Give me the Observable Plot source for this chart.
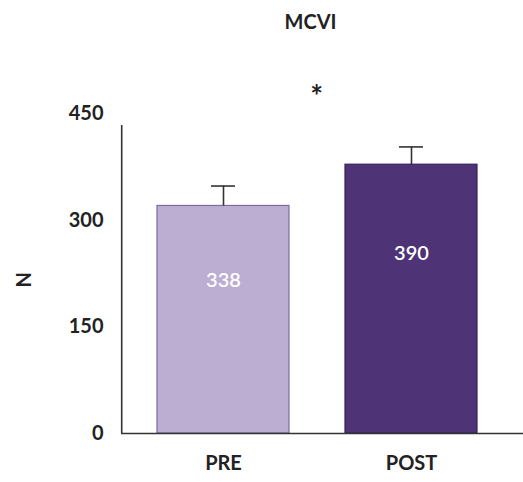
<!DOCTYPE html>
<html>
<head>
<meta charset="utf-8">
<script src="https://cdn.jsdelivr.net/npm/d3@7"></script>
<script src="https://cdn.jsdelivr.net/npm/@observablehq/plot@0.6"></script>
<style>
  html, body { margin: 0; padding: 0; background: #fff; }
  #chart svg { display: block; }
</style>
</head>
<body>
<div id="chart"></div>
<script>
const categories = ["PRE", "POST"];
const barValues = [320, 378];       // bar heights as drawn
const errorTops = [348, 403];       // top of error bars
const valueLabels = ["338", "390"]; // printed values
const fills = ["#bcaed3", "#4e3476"];
const strokes = ["#7d6d9c", "#35245a"];
const yTicks = [0, 150, 300, 450];
const title = "MCVI";
const yLabel = "N";
const significance = "*";

const data = categories.map((c, i) => ({
  cat: c, value: barValues[i], top: errorTops[i], label: valueLabels[i],
  fill: fills[i], stroke: strokes[i]
}));

const font = "Lato, 'Open Sans', sans-serif";

const chart = Plot.plot({
  width: 523,
  height: 482,
  marginTop: 113,
  marginBottom: 49,
  marginLeft: 121,
  marginRight: 0,
  style: { fontFamily: font, fontSize: "20px", fontWeight: 700, color: "#222", background: "#fff" },
  x: { domain: categories, range: [121, 513], paddingInner: 0.3, paddingOuter: 0.19, label: null },
  y: { domain: [0, 450], ticks: yTicks, label: null },
  marks: [
    Plot.barY(data, { x: "cat", y: "value", fill: "fill", stroke: "stroke", strokeWidth: 1.2 }),
    Plot.ruleX(data, { x: "cat", y1: "value", y2: "top", stroke: "#333", strokeWidth: 1.6 }),
    Plot.tickY(data, { x: "cat", y: "top", stroke: "#333", strokeWidth: 1.6, insetLeft: 54, insetRight: 54 }),
    Plot.text(data, { x: "cat", y: d => d.value * 0.67, text: "label", fill: "white", fontSize: 20, fontWeight: 600 }),
    Plot.ruleY([0], { stroke: "#333", strokeWidth: 1.6 }),
    Plot.ruleX([categories[0]], { x: d => d, y1: 0, y2: 433, dx: -101.8, stroke: "#333", strokeWidth: 1.6 }),
    Plot.axisY({ ticks: yTicks, tickSize: 0, tickPadding: 18, label: null, fontSize: 20 }),
    Plot.axisX({ tickSize: 0, tickPadding: 22, label: null, fontSize: 20 }),
    Plot.text([yLabel], { frameAnchor: "left", dx: -97, dy: 14, rotate: -90, fontSize: 20, fontWeight: 700, fill: "#222" }),
    Plot.text([title], { frameAnchor: "top", dx: -12, dy: -91, fontSize: 20, fontWeight: 700, fill: "#222", lineAnchor: "middle" }),
    Plot.text([significance], { frameAnchor: "top", dx: -6, dy: -16, fontSize: 30, fontWeight: 700, fill: "#222", lineAnchor: "middle" })
  ]
});
document.getElementById("chart").appendChild(chart);
</script>
</body>
</html>
